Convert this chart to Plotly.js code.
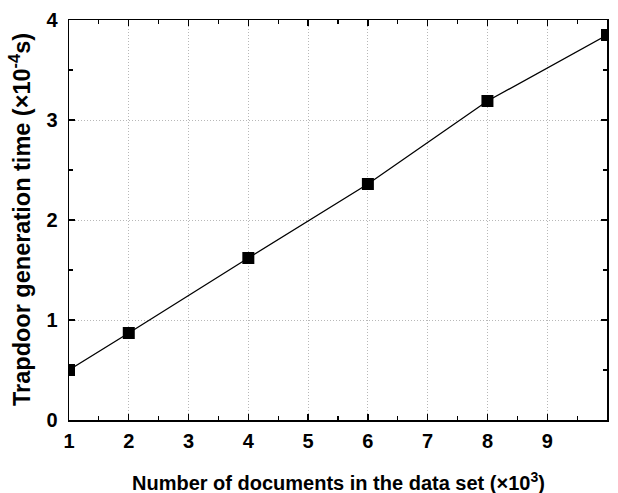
<!DOCTYPE html>
<html><head><meta charset="utf-8">
<script src="https://cdn.plot.ly/plotly-3.0.1.min.js"></script>
<style>body{margin:0;background:#fff}#c{width:618px;height:493px}</style>
</head><body><div id="c"></div>
<script>
var docs = [1, 2, 4, 6, 8, 10];
var trapdoorTime = [0.50, 0.87, 1.62, 2.36, 3.19, 3.85];
var xTicks = [1,2,3,4,5,6,7,8,9,10];
var yTicks = [0,1,2,3,4];

var fam = 'Liberation Sans, Arial, sans-serif';
function axis(extra) {
  var a = {
    showline: true, linecolor: '#000', linewidth: 1.5, mirror: 'allticks',
    ticks: 'inside', ticklen: 6, tickwidth: 1.3, tickcolor: '#000',
    showgrid: true, gridcolor: '#b8b8b8', griddash: '1px,2px', gridwidth: 1,
    zeroline: false,
    tickfont: {family: fam, size: 20, color: '#000', weight: 'bold'}
  };
  return Object.assign(a, extra);
}
var layout = {
  width: 618, height: 493,
  margin: {l: 69, r: 11, t: 20, b: 73},
  paper_bgcolor: '#fff', plot_bgcolor: '#fff',
  showlegend: false,
  xaxis: axis({
    range: [1, 10], tickvals: xTicks, ticktext: xTicks.map(String),
    minor: {ticks: 'inside', ticklen: 4, tickwidth: 1.2, tickcolor: '#000', showgrid: false, dtick: 0.5, tick0: 1},
    ticklabelstandoff: 2
  }),
  yaxis: axis({
    range: [0, 4], tickvals: yTicks, ticktext: yTicks.map(String),
    minor: {ticks: 'inside', ticklen: 4, tickwidth: 1.2, tickcolor: '#000', showgrid: false, dtick: 0.5, tick0: 0},
    ticklabelstandoff: 6
  }),
  annotations: [
    {text: 'Number of documents in the data set (×10<sup>3</sup>)', xref: 'paper', yref: 'paper',
     x: 0.5, y: 0, yshift: -47, xanchor: 'center', yanchor: 'top', showarrow: false,
     font: {family: fam, size: 20, color: '#000', weight: 'bold'}},
    {text: 'Trapdoor generation time (×10<sup>-4</sup>s)', xref: 'paper', yref: 'paper',
     x: 0, y: 0.5, xshift: -49, xanchor: 'center', yanchor: 'middle', textangle: -90, showarrow: false,
     font: {family: fam, size: 23.5, color: '#000', weight: 'bold'}}
  ]
};
var trace = {
  x: docs, y: trapdoorTime, type: 'scatter', mode: 'lines+markers',
  line: {color: '#000', width: 1.3},
  marker: {symbol: 'square', size: 12, color: '#000'},
  cliponaxis: true
};
Plotly.newPlot('c', [trace], layout, {displayModeBar: false, staticPlot: true});
</script></body></html>
